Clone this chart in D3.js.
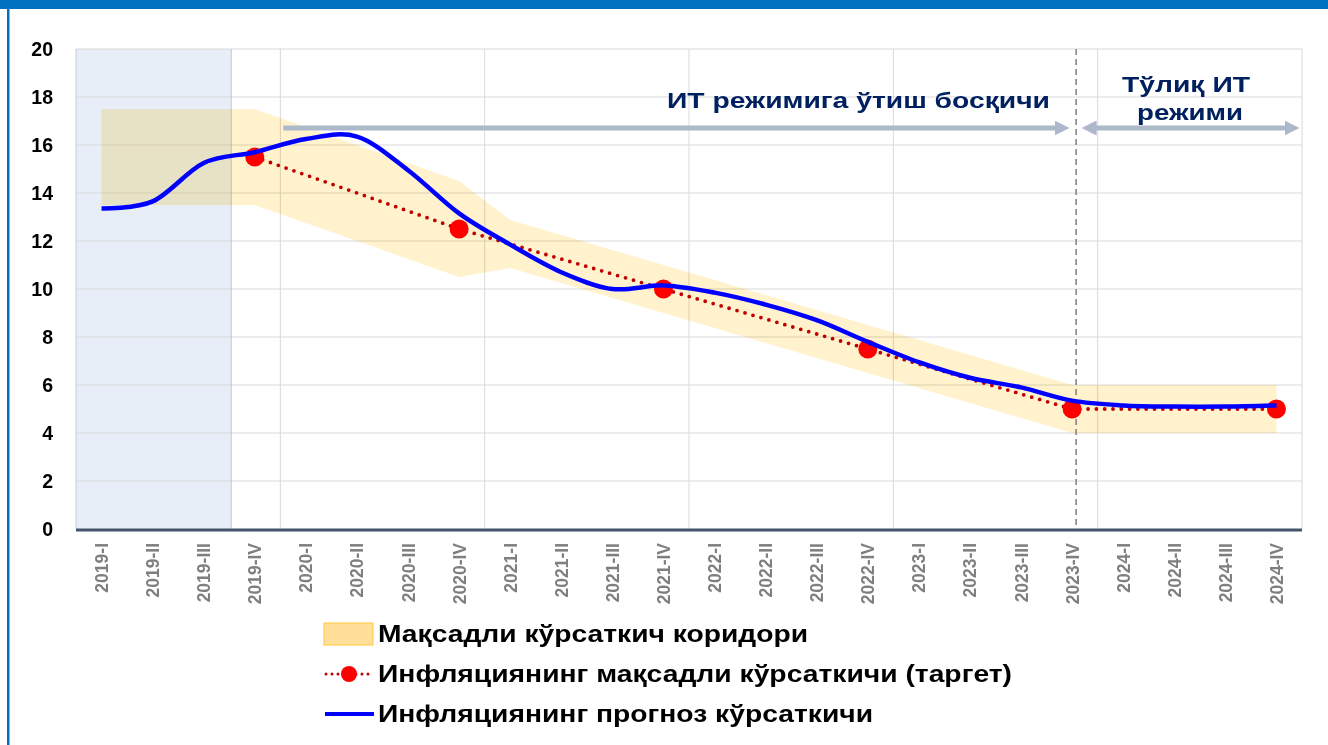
<!DOCTYPE html>
<html>
<head>
<meta charset="utf-8">
<script src="https://cdn.jsdelivr.net/npm/d3@7"></script>
<style>
  body { margin: 0; background: #fff; }
  svg { display: block; font-family: "Liberation Sans", Arial, sans-serif; }
</style>
</head>
<body>
<svg id="chart" width="1328" height="745"></svg>
<script>
// quarters on the x axis
var quarters = ["2019-I","2019-II","2019-III","2019-IV",
                "2020-I","2020-II","2020-III","2020-IV",
                "2021-I","2021-II","2021-III","2021-IV",
                "2022-I","2022-II","2022-III","2022-IV",
                "2023-I","2023-II","2023-III","2023-IV",
                "2024-I","2024-II","2024-III","2024-IV"];

// target corridor (lower / upper bound)
var corridorLow  = [13.5,13.5,13.5,13.5,12.75,12,11.25,10.5,10.875,10.25,9.625,9,
                    8.375,7.75,7.125,6.5,5.875,5.25,4.625,4,4,4,4,4];
var corridorHigh = [17.5,17.5,17.5,17.5,16.75,16,15.25,14.5,12.875,12.25,11.625,11,
                    10.375,9.75,9.125,8.5,7.875,7.25,6.625,6,6,6,6,6];

// inflation target points
var targetQuarters = ["2019-IV","2020-IV","2021-IV","2022-IV","2023-IV","2024-IV"];
var targetValues   = [15.5, 12.5, 10, 7.5, 5, 5];

// inflation forecast
var forecast = [13.35,13.65,15.25,15.7,16.25,16.35,14.95,13.15,11.85,10.7,10.0,10.15,
                9.85,9.35,8.7,7.8,6.95,6.3,5.9,5.35,5.15,5.1,5.1,5.15];

var yTicks = [0,2,4,6,8,10,12,14,16,18,20];
var shadedQuarters = ["2019-I","2019-III"];   // history block
var transitionEnd = "2023-IV";

var legendLabels = ["Мақсадли кўрсаткич коридори",
                    "Инфляциянинг мақсадли кўрсаткичи (таргет)",
                    "Инфляциянинг прогноз кўрсаткичи"];

var svg = d3.select("#chart");
var pLeft = 76, pRight = 1302, pTop = 49, pBottom = 529;

var x = d3.scaleBand().domain(quarters).range([pLeft, pRight]);
var y = d3.scaleLinear().domain([0, 20]).range([pBottom, pTop]);
var bw = x.bandwidth();
function cx(q){ return x(q) + bw / 2; }

// title bar + frame
svg.append("rect").attr("x",0).attr("y",0).attr("width",1328).attr("height",9).attr("fill","#0070c0");
svg.append("rect").attr("x",7).attr("y",0).attr("width",2.5).attr("height",745).attr("fill","#0070c0");

// history block
var histRight = x(shadedQuarters[1]) + bw + 2;
svg.append("rect")
    .attr("x", pLeft)
    .attr("y", pTop)
    .attr("width", histRight - pLeft)
    .attr("height", pBottom - pTop)
    .attr("fill", "#e7eef8");

// grid
svg.append("g").selectAll("line")
    .data(yTicks.filter(function(d){ return d > 0; }))
    .enter().append("line")
    .attr("x1", pLeft).attr("x2", pRight)
    .attr("y1", function(d){ return y(d); }).attr("y2", function(d){ return y(d); })
    .attr("stroke", "#d9d9d9").attr("stroke-width", 1);

svg.append("g").selectAll("line")
    .data(quarters.filter(function(d, i){ return i > 0 && i % 4 === 0; }))
    .enter().append("line")
    .attr("x1", function(d){ return x(d); }).attr("x2", function(d){ return x(d); })
    .attr("y1", pTop).attr("y2", pBottom)
    .attr("stroke", "#d9d9d9").attr("stroke-width", 1);

svg.append("line")
    .attr("x1", pLeft).attr("x2", pLeft).attr("y1", pTop).attr("y2", pBottom)
    .attr("stroke", "#c9ccd2");
svg.append("line")
    .attr("x1", pRight).attr("x2", pRight).attr("y1", pTop).attr("y2", pBottom)
    .attr("stroke", "#d9d9d9");
svg.append("line")
    .attr("x1", histRight).attr("x2", histRight)
    .attr("y1", pTop).attr("y2", pBottom)
    .attr("stroke", "#c3c8d0");

// corridor
var area = d3.area()
    .x(function(d, i){ return cx(quarters[i]); })
    .y0(function(d, i){ return y(corridorLow[i]); })
    .y1(function(d, i){ return y(corridorHigh[i]); });
svg.append("path")
    .datum(quarters)
    .attr("d", area)
    .attr("fill", "#fff2cc")
    .style("mix-blend-mode", "multiply");

// regime switch line
svg.append("line")
    .attr("x1", cx(transitionEnd) + 4).attr("x2", cx(transitionEnd) + 4)
    .attr("y1", pTop).attr("y2", pBottom)
    .attr("stroke", "#7f7f7f").attr("stroke-width", 1.5)
    .attr("stroke-dasharray", "6,4");

// x axis line
svg.append("line")
    .attr("x1", pLeft).attr("x2", pRight).attr("y1", pBottom + 1).attr("y2", pBottom + 1)
    .attr("stroke", "#44546a").attr("stroke-width", 3);

// y labels
svg.append("g").selectAll("text")
    .data(yTicks)
    .enter().append("text")
    .attr("x", 53)
    .attr("y", function(d){ return y(d); })
    .attr("dy", "0.36em")
    .attr("text-anchor", "end")
    .attr("font-size", "19.5px")
    .attr("font-weight", "bold")
    .attr("fill", "#000")
    .text(function(d){ return d; });

// x labels
svg.append("g").selectAll("text")
    .data(quarters)
    .enter().append("text")
    .attr("transform", function(d){ return "translate(" + (cx(d) + 6.5) + ",543) rotate(-90)"; })
    .attr("text-anchor", "end")
    .attr("font-family", "'Liberation Sans Narrow', 'Arial Narrow', sans-serif")
    .attr("font-size", "17.5px")
    .attr("font-weight", "bold")
    .attr("fill", "#7f7f7f")
    .text(function(d){ return d; });

// arrows
var defs = svg.append("defs");
function head(id, orient){
    defs.append("marker")
        .attr("id", id)
        .attr("viewBox", "0 0 10 10")
        .attr("refX", 5).attr("refY", 5)
        .attr("markerWidth", 3).attr("markerHeight", 3)
        .attr("orient", orient)
        .append("path").attr("d", "M0,0 L10,5 L0,10 z").attr("fill", "#adb9ca");
}
head("arrowEnd", "auto");
head("arrowStart", "auto-start-reverse");

var arrowY = 128;
svg.append("line")
    .attr("x1", x("2020-I") + 3).attr("x2", cx(transitionEnd) - 10)
    .attr("y1", arrowY).attr("y2", arrowY)
    .attr("stroke", "#adb9ca").attr("stroke-width", 5)
    .attr("marker-end", "url(#arrowEnd)");
svg.append("line")
    .attr("x1", cx(transitionEnd) + 17).attr("x2", pRight - 10)
    .attr("y1", arrowY).attr("y2", arrowY)
    .attr("stroke", "#adb9ca").attr("stroke-width", 5)
    .attr("marker-start", "url(#arrowStart)")
    .attr("marker-end", "url(#arrowEnd)");

// phase labels (the source text is drawn wider than the font, so stretch it)
function phaseLabel(txt, x0, x1, yy){
    svg.append("text")
        .attr("x", x0).attr("y", yy)
        .attr("textLength", x1 - x0)
        .attr("lengthAdjust", "spacingAndGlyphs")
        .attr("font-size", "22px").attr("font-weight", "bold")
        .attr("fill", "#002060")
        .text(txt);
}
phaseLabel("ИТ режимига ўтиш босқичи", 667, 1050, 108);
phaseLabel("Тўлиқ ИТ", 1122, 1250, 92);
phaseLabel("режими", 1137, 1243, 120);

// target line
var targetLine = d3.line()
    .x(function(d){ return cx(d); })
    .y(function(d, i){ return y(targetValues[i]); });
svg.append("path")
    .datum(targetQuarters)
    .attr("d", targetLine)
    .attr("fill", "none")
    .attr("stroke", "#c00000")
    .attr("stroke-width", 3.8)
    .attr("stroke-linecap", "round")
    .attr("stroke-dasharray", "0,8.3");

svg.append("g").selectAll("circle")
    .data(targetQuarters)
    .enter().append("circle")
    .attr("cx", function(d){ return cx(d); })
    .attr("cy", function(d, i){ return y(targetValues[i]); })
    .attr("r", 9.5)
    .attr("fill", "#ff0000");

// forecast line
var fLine = d3.line()
    .x(function(d, i){ return cx(quarters[i]); })
    .y(function(d){ return y(d); })
    .curve(d3.curveCardinal.tension(0));
svg.append("path")
    .datum(forecast)
    .attr("d", fLine)
    .attr("fill", "none")
    .attr("stroke", "#0000ff")
    .attr("stroke-width", 4.5)
    .attr("stroke-linejoin", "round");

// legend
var lg = svg.append("g");
var rows = [634, 674, 714];
var legendEnds = [808, 1012, 873];
lg.append("rect")
    .attr("x", 324).attr("y", rows[0] - 11)
    .attr("width", 49).attr("height", 22)
    .attr("fill", "#ffdf9a").attr("stroke", "#ffc83d").attr("stroke-width", 1);
lg.append("line")
    .attr("x1", 326).attr("x2", 372).attr("y1", rows[1]).attr("y2", rows[1])
    .attr("stroke", "#c00000").attr("stroke-width", 3)
    .attr("stroke-linecap", "round").attr("stroke-dasharray", "0,6");
lg.append("circle")
    .attr("cx", 349).attr("cy", rows[1]).attr("r", 8)
    .attr("fill", "#ff0000");
lg.append("line")
    .attr("x1", 325).attr("x2", 374).attr("y1", rows[2]).attr("y2", rows[2])
    .attr("stroke", "#0000ff").attr("stroke-width", 4);

lg.selectAll("text")
    .data(legendLabels)
    .enter().append("text")
    .attr("x", 378)
    .attr("y", function(d, i){ return rows[i]; })
    .attr("dy", "0.36em")
    .attr("textLength", function(d, i){ return legendEnds[i] - 378; })
    .attr("lengthAdjust", "spacingAndGlyphs")
    .attr("font-size", "23px")
    .attr("font-weight", "bold")
    .attr("fill", "#000")
    .text(function(d){ return d; });
</script>
</body>
</html>
